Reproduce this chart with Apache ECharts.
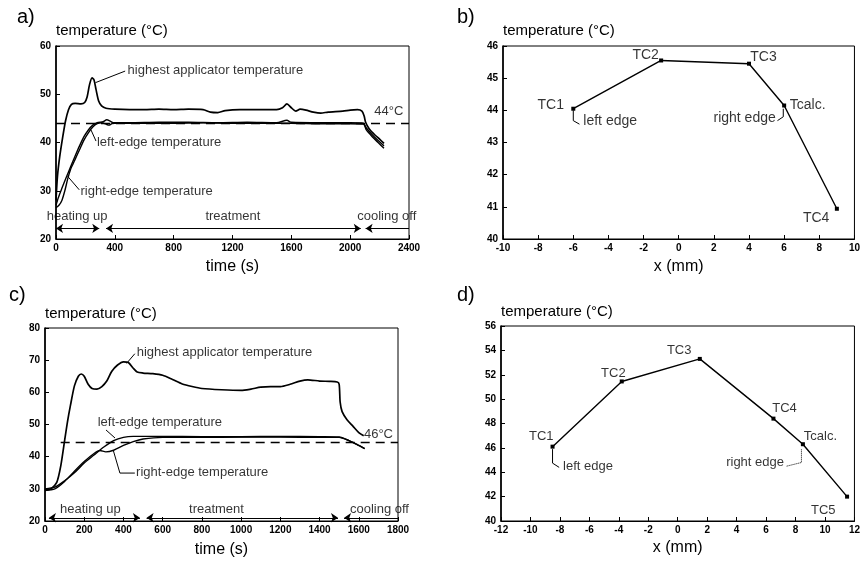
<!DOCTYPE html>
<html><head><meta charset="utf-8">
<script src="https://cdn.jsdelivr.net/npm/echarts@6/dist/echarts.min.js"></script>
<style>html,body{margin:0;padding:0;background:#fff}#c{width:863px;height:563px}</style>
</head><body><div id="c"></div>
<script>
// ---------- Panel a (time courses, first treatment) ----------
const aX = [0, 2400, 400];           // min, max, interval (time, s)
const aY = [20, 60, 10];             // temperature °C
const aHighest = [[0,28],[10,33],[25,37],[45,41],[65,44.5],[85,46.8],[105,47.9],[130,48.1],[170,48],[195,48.3],[212,49.5],[228,52],[245,53.4],[258,53],[272,51],[290,48.6],[310,47.6],[340,47.1],[400,46.9],[500,46.8],[600,46.8],[700,46.9],[800,46.8],[900,46.9],[1000,46.8],[1050,46.3],[1100,46.2],[1150,46.6],[1250,46.8],[1400,46.8],[1500,46.8],[1540,47.2],[1570,48],[1600,47.2],[1630,46.5],[1660,46.9],[1700,46.7],[1750,46.3],[1800,46.1],[1850,46.3],[1950,46.5],[2000,46.7],[2050,46.8],[2080,46.5],[2095,45.5],[2105,44.2],[2130,42.8],[2170,41.5],[2200,40.7],[2230,39.8]];
const aLeft = [[0,27],[15,28.5],[40,30.5],[70,32.8],[100,35],[130,37.2],[160,39.3],[190,41.2],[220,42.6],[250,43.6],[280,44.1],[320,44.3],[345,44.7],[365,44.5],[390,44.1],[500,44.1],[700,44.2],[900,44.2],[1100,44.1],[1300,44.2],[1500,44.1],[1570,44.6],[1600,44.2],[1800,44.1],[2000,44.1],[2090,44],[2110,43],[2150,41.6],[2190,40.4],[2230,39.3]];
const aRight = [[0,26.5],[20,27],[40,28],[60,30],[80,32.5],[100,34.5],[115,35.5],[130,36.5],[160,38.5],[190,40.5],[220,42],[250,43.2],[280,43.9],[310,44.1],[340,43.8],[360,43.6],[380,43.9],[400,44],[600,44],[800,44],[1000,44.1],[1200,44],[1400,44],[1600,44],[1800,43.9],[2000,43.9],[2090,43.8],[2110,42.6],[2150,41.2],[2190,40],[2230,38.8]];
const aDashed = 44;
const aPhases = [[0,294,'arrow','arrow'],[340,2072,'arrow','arrow'],[2105,2400,'arrow','none']];
const aPhaseY = 22.2;
const aTexts = [['highest applicator temperature',490,54.8,'left'],['left-edge temperature',282,40,'left'],['right-edge temperature',170,29.8,'left'],['44°C',2266,46.3,'center'],['heating up',147,24.6,'center'],['treatment',1206,24.6,'center'],['cooling off',2252,24.6,'center']];
const aLeaders = [[[268,52.4],[470,54.8]],[[238,42.6],[272,40.3]],[[79,33],[158,30.2]]];

// ---------- Panel b (profile, first treatment) ----------
const bX = [-10, 10, 2];
const bY = [40, 46, 1];
const bPoints = [[-6,44.05],[-1,45.55],[4,45.45],[6,44.15],[9,40.94]];
const bTexts = [['TC1',-6.5,44.15,'right'],['TC2',-1.1,45.7,'right'],['TC3',4.1,45.65,'left'],['Tcalc.',6.35,44.14,'left'],['TC4',8.6,40.62,'right'],['left edge',-5.4,43.65,'left'],['right edge',5.55,43.75,'right']];
const bLeaders = [[[-6,44.0],[-6,43.68],[-5.65,43.57]],[[5.62,43.68],[5.95,43.8],[5.95,44.05]]];

// ---------- Panel c (time courses, second treatment) ----------
const cX = [0, 1800, 200];
const cY = [20, 80, 10];
const cHighest = [[0,29.5],[30,30],[60,32],[80,37],[100,45],[115,51],[130,56],[150,62],[170,65],[185,65.7],[200,65],[220,62.5],[240,61.2],[265,61],[290,61.8],[315,63.5],[340,66.5],[370,68.5],[400,69.5],[425,69.3],[450,67.5],[470,66.3],[500,66],[550,65.8],[600,65.3],[650,64],[700,62.6],[750,61.8],[800,61.2],[900,60.8],[1000,60.6],[1050,61],[1100,61.6],[1150,61.8],[1200,61.8],[1250,62.5],[1300,63.5],[1340,63.9],[1400,63.5],[1450,63.4],[1490,63.2],[1500,62.5],[1505,57],[1515,54],[1540,51.5],[1570,49.5],[1600,47.5],[1625,46.5]];
const cLeft = [[0,30],[50,30.5],[100,32.5],[150,35],[200,38],[250,40.5],[300,43],[350,45],[400,46],[450,46.3],[600,46.3],[800,46.2],[1000,46.2],[1200,46.3],[1400,46.2],[1500,46.1],[1550,45],[1590,43.8],[1630,42.5]];
const cRight = [[0,29.5],[50,30],[100,32.3],[150,35.5],[200,38.5],[250,41],[280,41.9],[310,41.5],[350,42],[400,43.5],[450,44.7],[500,45.5],[600,46],[800,46],[1000,46.1],[1200,46.1],[1400,46],[1500,46],[1550,45],[1590,43.8],[1630,42.5]];
const cDashed = [[80,44.5],[1800,44.5]];
const cPhases = [[20,484,'arrow','arrow'],[518,1494,'arrow','arrow'],[1525,1800,'arrow','none']];
const cPhaseY = 21;
const cTexts = [['highest applicator temperature',470,72.2,'left'],['left-edge temperature',271,50.5,'left'],['right-edge temperature',467,34.9,'left'],['46°C',1703,46.8,'center'],['heating up',234,23.4,'center'],['treatment',877,23.4,'center'],['cooling off',1708,23.4,'center']];
const cLeaders = [[[416,69],[458,72]],[[311,48.3],[357,45.8]],[[458,34.9],[382,34.9],[348,42]]];

// ---------- Panel d (profile, second treatment) ----------
const dX = [-12, 12, 2];
const dY = [40, 56, 2];
const dPoints = [[-8.5,46.1],[-3.8,51.45],[1.5,53.3],[6.5,48.4],[8.5,46.3],[11.5,42.0]];
const dTexts = [['TC1',-8.4,46.9,'right'],['TC2',-3.5,52.05,'right'],['TC3',-0.7,53.95,'left'],['TC4',6.45,49.2,'left'],['Tcalc.',8.6,46.9,'left'],['TC5',10.75,40.85,'right'],['left edge',-7.75,44.4,'left'],['right edge',7.25,44.75,'right']];
const dLeaders = [[[-8.5,45.9],[-8.5,44.75],[-8.05,44.4]],[[7.4,44.5],[8.4,44.8],[8.4,45.9]]];

// ---------- layout ----------
const FONT = 'Liberation Sans, Arial, Helvetica, sans-serif';
const grids = [
  {left:56, top:46, width:353, height:193},
  {left:503, top:46, width:353, height:193},
  {left:45, top:328, width:353, height:193},
  {left:501, top:326, width:354, height:195}
];
const xNames = ['time (s)','x (mm)','time (s)','x (mm)'];
const ranges = [[aX,aY],[bX,bY],[cX,cY],[dX,dY]];
const plain = v => String(v);

function xAxis(i){
  const r = ranges[i][0];
  return {gridIndex:i, type:'value', min:r[0], max:r[1], interval:r[2],
    name:xNames[i], nameLocation:'middle', nameGap:[20,20,21,19][i],
    nameTextStyle:{fontSize:16, color:'#000', fontFamily:FONT},
    axisLine:{show:true, onZero:false, lineStyle:{color:'#000', width:1.2}},
    axisTick:{show:true, inside:true, length:4, lineStyle:{color:'#000'}},
    axisLabel:{fontSize:10, color:'#000', margin:4, fontFamily:FONT, fontWeight:'bold', formatter:plain},
    splitLine:{show:false}};
}
function yAxis(i){
  const r = ranges[i][1];
  return {gridIndex:i, type:'value', min:r[0], max:r[1], interval:r[2],
    name:'temperature (°C)', nameLocation:'end', nameGap:[8,8,7,7][i],
    nameTextStyle:{fontSize:15, color:'#000', fontFamily:FONT, align:'left'},
    axisLine:{show:true, onZero:false, lineStyle:{color:'#000', width:1.6}},
    axisTick:{show:true, inside:true, length:4, lineStyle:{color:'#000'}},
    axisLabel:{fontSize:10, color:'#000', margin:5, fontFamily:FONT, fontWeight:'bold', formatter:plain},
    splitLine:{show:false}};
}

const series = [];
function curve(data, i, w){
  series.push({type:'line', xAxisIndex:i, yAxisIndex:i, data:data, symbol:'none', smooth:0.25,
    lineStyle:{color:'#000', width:w||1.7}, silent:true, z:3});
}
function profile(data, i){
  series.push({type:'line', xAxisIndex:i, yAxisIndex:i, data:data, symbol:'rect', symbolSize:4, showSymbol:true,
    itemStyle:{color:'#000'}, lineStyle:{color:'#000', width:1.4}, silent:true, z:3});
}
function leaders(list, i, dottedLast){
  list.forEach((pts, k) => {
    series.push({type:'line', xAxisIndex:i, yAxisIndex:i, data:pts, symbol:'none',
      lineStyle:{color:'#000', width:1, type:(dottedLast && k===list.length-1)?'dotted':'solid'}, silent:true, z:2});
  });
}
function texts(list, i, fs){
  series.push({type:'scatter', xAxisIndex:i, yAxisIndex:i, symbolSize:1, itemStyle:{color:'rgba(0,0,0,0)'}, silent:true, z:4,
    data:list.map(t => ({name:t[0], value:[t[1], t[2]],
      label:{show:true, formatter:'{b}', position:[0,0], align:t[3], verticalAlign:'middle',
        fontSize:fs||13, color:'#000', fontFamily:FONT}}))});
}
function phases(list, y, i){
  series.push({type:'line', xAxisIndex:i, yAxisIndex:i, data:[], silent:true,
    markLine:{silent:true, symbolSize:7, animation:false, label:{show:false},
      lineStyle:{color:'#000', type:'solid', width:1},
      data:list.map(p => [{coord:[p[0],y], symbol:p[2]},{coord:[p[1],y], symbol:p[3]}])}});
}

// panel a
curve(aHighest,0); curve(aLeft,0,1.4); curve(aRight,0,1.4);
series.push({type:'line', xAxisIndex:0, yAxisIndex:0, data:[], silent:true,
  markLine:{silent:true, symbol:'none', animation:false, label:{show:false},
    lineStyle:{color:'#000', type:[9,6], width:1.3}, data:[{yAxis:aDashed}]}});
phases(aPhases, aPhaseY, 0); leaders(aLeaders, 0); texts(aTexts, 0);
// panel b
profile(bPoints,1); leaders(bLeaders,1); texts(bTexts,1,14);
// panel c
curve(cHighest,2); curve(cLeft,2,1.4); curve(cRight,2,1.4);
series.push({type:'line', xAxisIndex:2, yAxisIndex:2, data:[], silent:true,
  markLine:{silent:true, symbol:'none', animation:false, label:{show:false},
    lineStyle:{color:'#000', type:[9,6], width:1.3},
    data:[[{coord:cDashed[0]},{coord:cDashed[1]}]]}});
phases(cPhases, cPhaseY, 2); leaders(cLeaders, 2); texts(cTexts, 2);
// panel d
profile(dPoints,3); leaders(dLeaders,3,true); texts(dTexts,3,13);

const chart = echarts.init(document.getElementById('c'), null, {renderer:'canvas'});
chart.setOption({
  animation:false,
  backgroundColor:'#fff',
  title:[
    {text:'a)', left:12, top:2, textStyle:{fontSize:20, fontWeight:'normal', color:'#000', fontFamily:FONT}},
    {text:'b)', left:452, top:2, textStyle:{fontSize:20, fontWeight:'normal', color:'#000', fontFamily:FONT}},
    {text:'c)', left:4, top:280, textStyle:{fontSize:20, fontWeight:'normal', color:'#000', fontFamily:FONT}},
    {text:'d)', left:452, top:280, textStyle:{fontSize:20, fontWeight:'normal', color:'#000', fontFamily:FONT}}
  ],
  grid: grids.map(g => Object.assign({show:true, borderColor:'#000', borderWidth:1, backgroundColor:'transparent'}, g)),
  xAxis:[0,1,2,3].map(xAxis),
  yAxis:[0,1,2,3].map(yAxis),
  series:series
});
</script></body></html>
